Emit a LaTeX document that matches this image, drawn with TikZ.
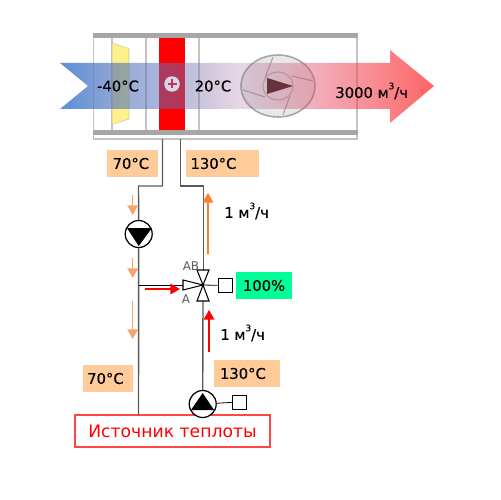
\documentclass[tikz,border=0pt]{standalone}
\usepackage{fontspec}
\setmainfont{DejaVu Sans}
\newfontfamily\labfont[FakeBold=0.2]{DejaVu Sans}
\usetikzlibrary{arrows.meta,shapes.geometric,fadings}
\pgfdeclarehorizontalshading{flowshade}{100bp}{
  rgb(0bp)=(0.286,0.514,0.824); rgb(25bp)=(0.286,0.514,0.824);
  rgb(33bp)=(0.275,0.412,0.722); rgb(40bp)=(0.376,0.455,0.729);
  rgb(49bp)=(0.612,0.376,0.580); rgb(61bp)=(0.922,0.294,0.373);
  rgb(75bp)=(1,0.24,0.24); rgb(100bp)=(1,0.24,0.24)}
\pgfdeclarehorizontalshading{flowalpha}{100bp}{
  rgb(0bp)=(0.9,0.9,0.9); rgb(25bp)=(0.9,0.9,0.9);
  rgb(33bp)=(0.57,0.57,0.57); rgb(40bp)=(0.5,0.5,0.5);
  rgb(49bp)=(0.25,0.25,0.25); rgb(61bp)=(0.5,0.5,0.5);
  rgb(75bp)=(0.8,0.8,0.8); rgb(100bp)=(0.8,0.8,0.8)}
\pgfdeclarefading{flowfade}{\pgfuseshading{flowalpha}}
\definecolor{peach}{RGB}{255,204,153}
\definecolor{ductbar}{RGB}{166,166,166}
\definecolor{ductline}{RGB}{195,195,195}
\definecolor{pipecol}{RGB}{90,90,90}
\definecolor{softor}{RGB}{244,164,110}
\definecolor{strongor}{RGB}{255,127,39}
\definecolor{mint}{RGB}{0,255,153}
\definecolor{fantri}{RGB}{102,50,60}
\definecolor{plusbg}{RGB}{215,215,235}
\definecolor{plusfg}{RGB}{200,50,80}
\definecolor{srcline}{RGB}{255,70,70}
\definecolor{paleyellow}{RGB}{255,240,140}
\tikzset{
  x=0.02cm,y=-0.02cm,
  lab/.style={font=\labfont\fontsize{8.4}{9}\selectfont,text=black,inner sep=0pt},
  tempbox/.style={fill=peach,lab,anchor=west,align=left,inner ysep=0pt,minimum height=0.54cm},
  pipeline/.style={draw=pipecol,line width=0.8pt},
  sig/.style={draw=black,line width=0.45pt},
  flowarrow/.style={line width=0.9pt,-{Triangle[length=5.5pt,width=6pt]}},
  pumpc/.style={circle,draw=black,line width=0.7pt,fill=white,minimum size=0.54cm,inner sep=0pt},
  actbox/.style={draw=black,line width=0.5pt,fill=white,minimum size=0.28cm,inner sep=0pt},
  valvetri/.style={draw=black,line width=0.6pt,fill=white,line join=miter},
  ductrule/.style={draw=ductline,line width=0.6pt},
}
\begin{document}
\begin{tikzpicture}
\useasboundingbox (0,0) rectangle (500,500);
% duct
\draw[ductrule] (93.5,33) -- (93.5,139) -- (357,139) -- (357,33);
\foreach \xx in {112,146,199}\draw[ductrule] (\xx,38) -- (\xx,130);
\fill[paleyellow,draw=ductline!90!yellow,line width=0.3pt] (112,43) -- (129,48.5) -- (129,119) -- (112,124.5) -- cycle;
\fill[red] (159,38) rectangle (185,130);
\fill[ductbar] (93,33) rectangle (358,38);
\fill[ductbar] (93,130) rectangle (358,135);
% fan
\draw[fill=black!9,draw=black!35,line width=0.9pt] (278,86) ellipse [x radius=37,y radius=31];
\draw[black!35,line width=0.6pt] (273,57) -- (265,78) (292,76) -- (313,81) (243,90) -- (265,97) (283,115) -- (290,96);
\draw[black!30,fill=black!9,line width=0.6pt] (278,86) ellipse [x radius=15,y radius=14];
% flow arrow
\shade[shading=flowshade,path fading=flowfade] (60,63) -- (390,63) -- (390,50) -- (434,86) -- (390,123) -- (390,109) -- (60,109) -- (88,86) -- cycle;
\fill[fantri] (267,78) -- (293,86) -- (267,94) -- cycle;
% heater sign
\node[circle,fill=plusbg,minimum size=0.31cm,inner sep=0pt] (plus) at (172,84) {};
\draw[plusfg,line width=1.1pt] (167.5,84) -- (176.5,84) (172,79.5) -- (172,88.5);
% texts on arrow
\node[lab] (tin) at (118,86) {-40°C};
\node[lab] (tmid) at (213,86) {20°C};
\node[lab,anchor=west] (qair) at (335,91) {3000 м\raisebox{5pt}{\fontsize{5}{5}\selectfont 3}/ч};
% temperature boxes
\node[tempbox,inner xsep=3pt,text width=0.81cm] (t1) at (107,163.5) {70°C};
\node[tempbox,inner xsep=2.4pt,text width=1.29cm] (t2) at (186,163.5) {130°C};
\node[tempbox,inner xsep=2.2pt,text width=0.84cm] (t3) at (83,378.5) {70°C};
\node[tempbox,inner xsep=3.2pt,text width=1.09cm] (t4) at (214,373.5) {130°C};
\node[fill=mint,lab,minimum width=1.12cm,minimum height=0.54cm] (pct) at (264,285.5) {100\%};
% source
\node[draw=srcline,fill=white,line width=0.6pt,minimum width=3.9cm,minimum height=0.64cm,inner sep=0pt,text=red,font=\fontsize{9.8}{10}\selectfont] (src) at (172.5,431) {Источник теплоты};
% coordinates
\coordinate (valve) at (203,285);
\coordinate (ductL) at (162.5,139);
\coordinate (ductR) at (180.5,139);
\coordinate (bL) at (138.5,186);
\coordinate (bR) at (203.5,186);
\coordinate (tee) at (138.5,285);
\coordinate (srcL) at (138.5,415);
\coordinate (valveTop) at (203.5,270);
\coordinate (valveBot) at (203,301);
\coordinate (valveLeft) at (183,285);
% pumps
\node[pumpc] (p1) at (138.7,234) {};
\node[pumpc] (p2) at (202.7,404) {};
\node[actbox] (act1) at (225,285.5) {};
\node[actbox] (act2) at (239,402) {};
% pipes
\draw[pipeline] (ductL) |- (bL) -- (p1);
\draw[pipeline] (p1) -- (srcL);
\draw[pipeline] (ductR) |- (bR) -- (valveTop);
\draw[pipeline] (valveBot) -- (p2);
\draw[sig] (tee) -- (valveLeft);
\draw[sig] (valve) -- (act1);
\draw[sig] (p2) -- (act2);
% pump triangles
\fill[black] (127,228) -- (152,228) -- (138.7,246) -- cycle;
\fill[black] (191,410) -- (214,410) -- (202.7,393) -- cycle;
% valve
\draw[valvetri] (197,270) -- (209,270) -- (valve) -- cycle;
\draw[valvetri] (197,301) -- (209,301) -- (valve) -- cycle;
\draw[valvetri] (183,280) -- (183,290) -- (valve) -- cycle;
\node[font=\fontsize{6.8}{7}\selectfont,text=black!65,inner sep=0pt] (lab) at (191,266) {AB};
\node[font=\fontsize{6.8}{7}\selectfont,text=black!65,inner sep=0pt] (laa) at (186,299) {A};
% flow arrows
\draw[flowarrow,softor] (132.7,195) -- (132.7,215);
\draw[flowarrow,softor] (132.7,258) -- (132.7,278);
\draw[flowarrow,softor] (132.7,301) -- (132.7,339);
\draw[flowarrow,strongor] (208,254) -- (208,193);
\draw[flowarrow,red] (145,289) -- (180,289);
\draw[flowarrow,red] (209,352) -- (209,310);
% flow rate
\node[lab,anchor=west] (q1) at (224,211) {1 м\raisebox{5pt}{\fontsize{5}{5}\selectfont 3}/ч};
\node[lab,anchor=west] (q2) at (220,333) {1 м\raisebox{5pt}{\fontsize{5}{5}\selectfont 3}/ч};
\end{tikzpicture}
\end{document}
